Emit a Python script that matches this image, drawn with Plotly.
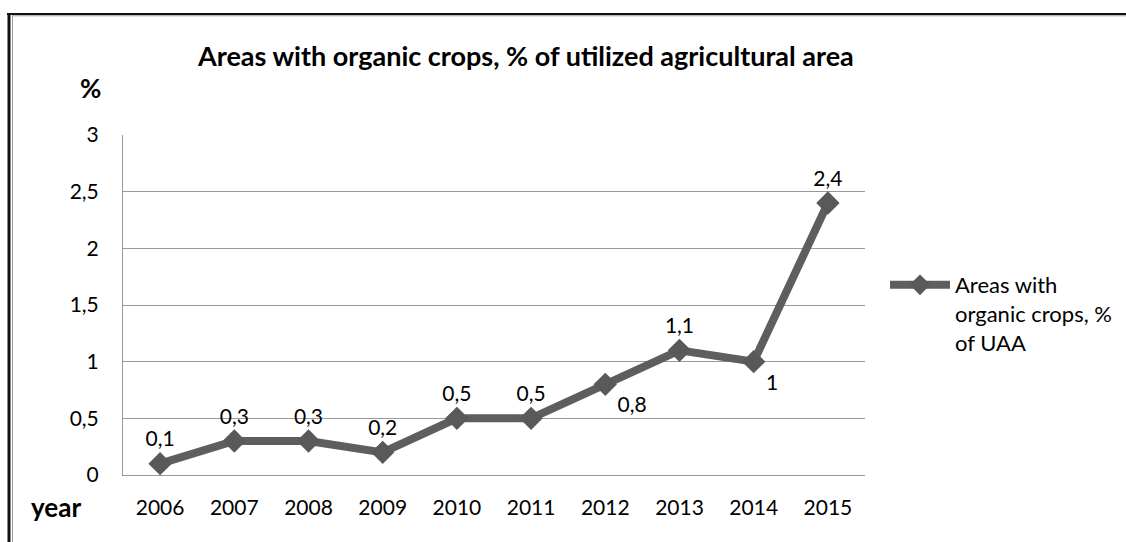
import plotly.graph_objects as go

years = ["2006", "2007", "2008", "2009", "2010", "2011", "2012", "2013", "2014", "2015"]
share = [0.1, 0.3, 0.3, 0.2, 0.5, 0.5, 0.8, 1.1, 1.0, 2.4]
labels = ["0,1", "0,3", "0,3", "0,2", "0,5", "0,5", "0,8", "1,1", "1", "2,4"]
label_pos = ["top center"] * 6 + ["bottom right", "top center", "bottom right", "top center"]
series_name = "Areas with<br>organic crops, %<br>of UAA"
title_text = "Areas with organic crops, % of utilized agricultural area"

FONT = "Lato, 'Open Sans', sans-serif"
W, H = 1126, 542
L, R, T, B = 123, 865, 135, 475  # plot area in px

def px_x(px):
    return (px - L) / (R - L)

def px_y(py):
    return (B - py) / (B - T)

fig = go.Figure()
fig.add_trace(go.Scatter(
    x=years, y=share, mode="lines+markers+text",
    name=series_name,
    text=labels, textposition=label_pos,
    textfont=dict(family=FONT, size=21, color="#000000"),
    line=dict(color="#5e5e5e", width=8),
    marker=dict(symbol="diamond", size=18, color="#595959"),
    cliponaxis=False,
))

shapes = [
    dict(type="line", xref="paper", yref="paper", x0=px_x(9), x1=px_x(9), y0=px_y(13), y1=px_y(560),
         line=dict(color="#111111", width=3)),
    dict(type="line", xref="paper", yref="paper", x0=px_x(12.5), x1=px_x(12.5), y0=px_y(16), y1=px_y(560),
         line=dict(color="#9a9a9a", width=1)),
    dict(type="line", xref="paper", yref="paper", x0=px_x(7), x1=px_x(1140), y0=px_y(14), y1=px_y(14),
         line=dict(color="#111111", width=2)),
    dict(type="line", xref="paper", yref="paper", x0=px_x(12), x1=px_x(1140), y0=px_y(15.8), y1=px_y(15.8),
         line=dict(color="#9a9a9a", width=1)),
]

annotations = [
    dict(text="<b>" + title_text + "</b>", xref="paper", yref="paper", x=px_x(525), y=px_y(56),
         xanchor="center", yanchor="middle", showarrow=False,
         font=dict(family=FONT, size=27, color="#000000")),
    dict(text="<b>%</b>", xref="paper", yref="paper", x=px_x(90), y=px_y(88),
         xanchor="center", yanchor="middle", showarrow=False,
         font=dict(family=FONT, size=26, color="#000000")),
    dict(text="<b>year</b>", xref="paper", yref="paper", x=px_x(56), y=px_y(507),
         xanchor="center", yanchor="middle", showarrow=False,
         font=dict(family=FONT, size=26, color="#000000")),
]

fig.update_layout(
    width=W, height=H,
    margin=dict(l=L, r=W - R, t=T, b=H - B, pad=0, autoexpand=False),
    paper_bgcolor="white", plot_bgcolor="white",
    separators=", ",
    font=dict(family=FONT, size=21, color="#000000"),
    shapes=shapes, annotations=annotations,
    showlegend=True,
    legend=dict(x=px_x(885), y=px_y(264), xanchor="left", yanchor="top",
                font=dict(family=FONT, size=22, color="#000000"),
                itemwidth=60, valign="top", bgcolor="rgba(0,0,0,0)"),
    xaxis=dict(type="category", range=[-0.5, len(years) - 0.5], autorange=False,
               showgrid=False, showline=True, linecolor="#999999", linewidth=1,
               ticks="", ticklabelstandoff=14, tickfont=dict(size=21), zeroline=False),
    yaxis=dict(range=[0, 3], dtick=0.5, showgrid=True, gridcolor="#999999", gridwidth=1,
               showline=True, linecolor="#999999", linewidth=1, ticks="",
               ticklabelstandoff=19, tickfont=dict(size=21), zeroline=False),
)

fig.write_html("out.html", config={"displayModeBar": False},
               post_script="document.body.style.margin='0';")
